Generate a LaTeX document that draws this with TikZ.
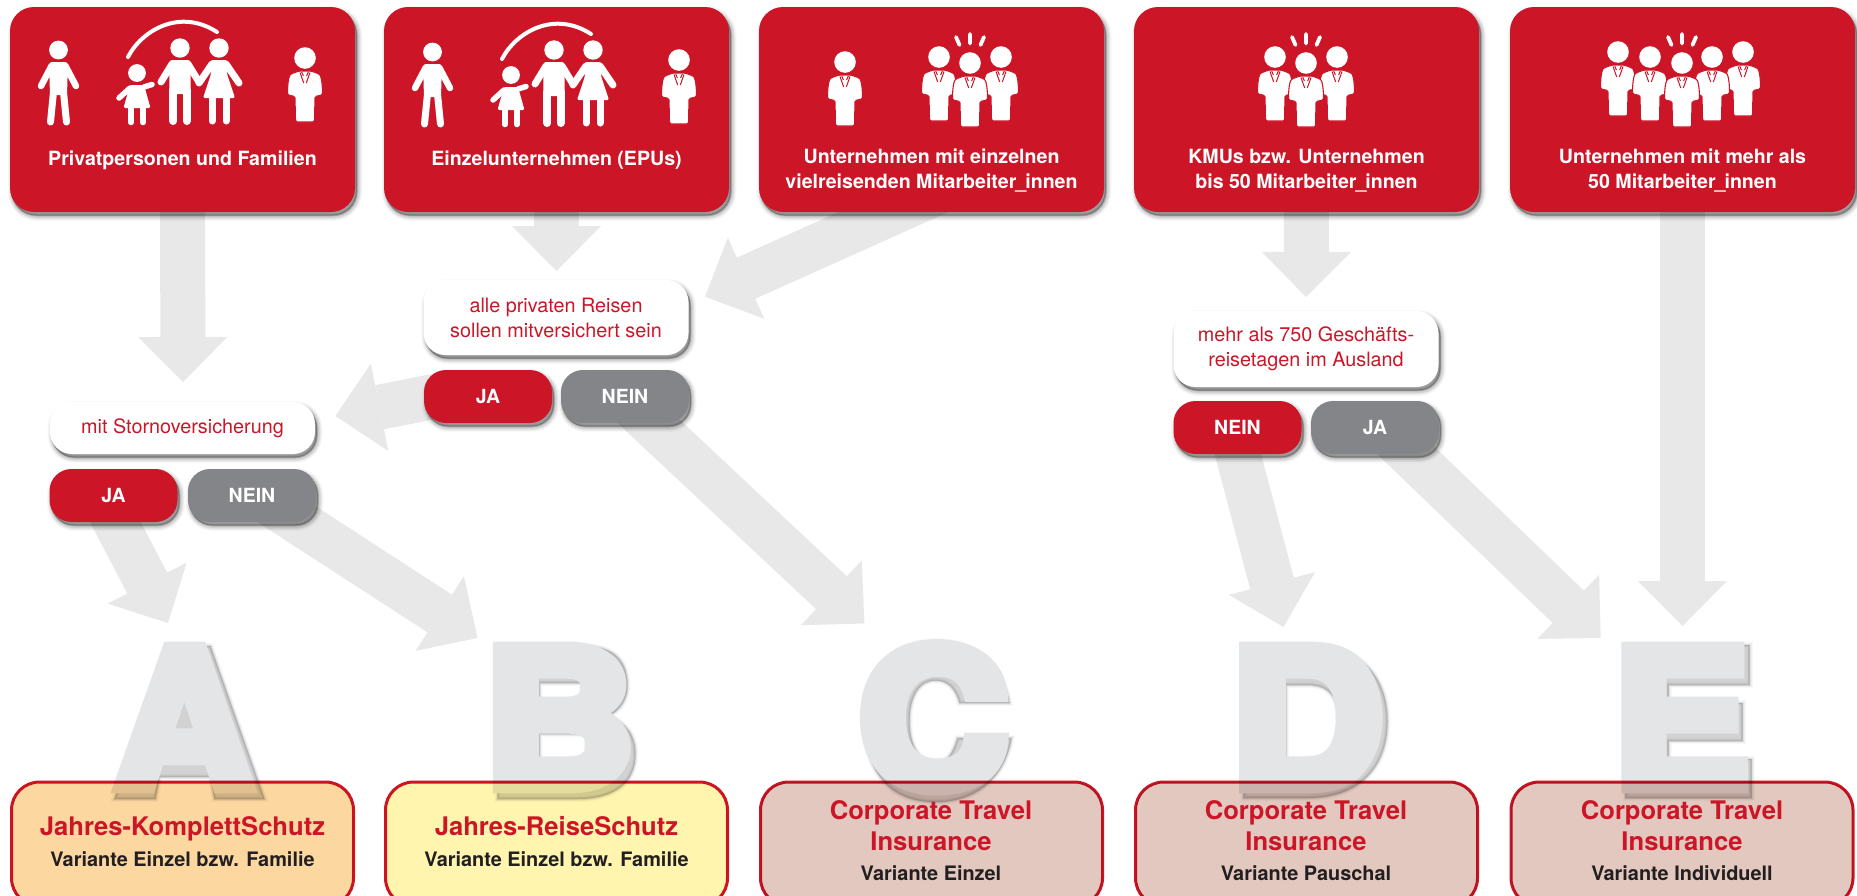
\documentclass[tikz,border=0pt]{standalone}
\usepackage{fontspec}
\setmainfont{TeX Gyre Heros}
\newfontfamily\heavyfont{TeX Gyre Heros}[BoldFeatures={FakeBold=7}]
\usetikzlibrary{arrows.meta,shadows,calc}
\definecolor{boxred}{HTML}{CC1628}
\definecolor{nogrey}{HTML}{848589}
\definecolor{arrowgrey}{HTML}{E8E8E8}
\definecolor{lettergrey}{HTML}{E4E5E7}
\definecolor{subtext}{HTML}{231F20}
\definecolor{fillA}{HTML}{FDD7A0}
\definecolor{fillB}{HTML}{FFF5AE}
\definecolor{fillC}{HTML}{E2C8BE}
\pgfdeclarelayer{bg}
\pgfsetlayers{bg,main}
\newcommand{\usc}{\kern-1pt\_\kern-1pt}
\tikzset{
  softshadow/.style={
    general shadow={fill=black,draw=black,opacity=.025,line width=10pt,shadow xshift=2.5pt,shadow yshift=-4pt},
    general shadow={fill=black,draw=black,opacity=.035,line width=8pt,shadow xshift=2.5pt,shadow yshift=-4pt},
    general shadow={fill=black,draw=black,opacity=.05,line width=6pt,shadow xshift=2.5pt,shadow yshift=-4pt},
    general shadow={fill=black,draw=black,opacity=.07,line width=4pt,shadow xshift=2.5pt,shadow yshift=-4pt},
    general shadow={fill=black,draw=black,opacity=.09,line width=2pt,shadow xshift=2pt,shadow yshift=-3.5pt},
    general shadow={fill=black,draw=black,opacity=.12,line width=.5pt,shadow xshift=1.5pt,shadow yshift=-3pt}},
  topbox/.style={softshadow,fill=boxred,rounded corners=24pt,minimum width=345pt,minimum height=205pt,inner sep=0pt},
  qbox/.style={softshadow,fill=white,rounded corners=22pt,minimum width=265pt,inner sep=0pt,align=center,text=boxred,font=\fontsize{19.8}{25}\selectfont},
  btn/.style={softshadow,rounded corners=22pt,minimum width=128pt,minimum height=53pt,inner sep=0pt,text=white,font=\bfseries\fontsize{19.5}{24}\selectfont},
  yes/.style={btn,fill=boxred},
  no/.style={btn,fill=nogrey},
  toplabel/.style={text=white,align=center,inner sep=0pt,font=\bfseries\fontsize{19.6}{25}\selectfont},
  resbox/.style={draw=boxred,line width=3pt,rounded corners=28pt,minimum width=342pt,minimum height=124pt,inner sep=0pt},
  reslabel/.style={align=center,inner sep=0pt,text=boxred,font=\bfseries\fontsize{25.6}{30.5}\selectfont},
  bigletter/.style={anchor=base,inner sep=0pt,text=lettergrey,transform shape,font=\heavyfont\bfseries\fontsize{190}{190}\selectfont},
  bigarrow/.style={draw=arrowgrey,line width=45pt,-{Triangle[width=89pt,length=45pt,line width=0pt,fill=arrowgrey]}},
  limb/.style={draw=white,line cap=round},
  adult/.pic={
    \fill[white] (0,0) circle (9.7);
    \fill[white,rounded corners=3pt] (-10.7,12) -- (10.7,12) -- (10.7,46) -- (-10.7,46) -- cycle;
    \draw[limb,line width=8pt] (-6.7,42) -- (-6.7,73) (6.7,42) -- (6.7,73);
    \draw[limb,line width=7pt] (-8,16) -- (-19,34) (8,16) -- (19,34);
  },
  walker/.pic={
    \fill[white] (0,0) circle (9.4);
    \fill[white,rounded corners=3pt] (-9.5,12) -- (9.5,12) -- (8.5,45) -- (-8.5,45) -- cycle;
    \draw[limb,line width=7pt] (-5,42) -- (-8,72) (5,42) -- (8,72);
    \draw[limb,line width=6.5pt] (-7,16) -- (-17.5,36) (7,16) -- (17.5,36);
  },
  woman/.pic={
    \fill[white] (0,0) circle (9.7);
    \fill[white,rounded corners=2pt] (-8,12) -- (8,12) -- (8,26) -- (16,50) -- (-16,50) -- (-8,26) -- cycle;
    \draw[limb,line width=7pt] (-7,48) -- (-7,73) (7,48) -- (7,73);
    \draw[limb,line width=7pt] (-7,16) -- (-20,35) (7,16) -- (20,35);
  },
  kid/.pic={
    \fill[white] (0,0) circle (8.9);
    \fill[white,rounded corners=1.5pt] (-7,12) -- (7,12) -- (13.5,35) -- (-13.5,35) -- cycle;
    \draw[limb,line width=5.5pt] (-6,33) -- (-6,49.5) (6,33) -- (6,49.5);
    \draw[limb,line width=5.5pt] (-7,15) -- (-18,25) (7,14) -- (15,11.5);
  },
  suit/.pic={
    \fill[white] (0,0) circle (10.8);
    \filldraw[fill=white,draw=boxred,line width=1.1pt,rounded corners=1.5pt] (-6,13) -- (-13,15.5) .. controls (-17,18) and (-17.5,30) .. (-17.5,37) -- (-10,38.5) -- (-9.5,64) -- (9.5,64) -- (10,38.5) -- (17.5,37) .. controls (17.5,30) and (17,18) .. (13,15.5) -- (6,13) -- cycle;
    \draw[boxred,line width=1pt] (-5,14.5) -- (-1.3,25) (5,14.5) -- (1.3,25) (-3.3,14) -- (-1.6,18) (3.3,14) -- (1.6,18);
  },
  rays/.pic={
    \draw[limb,line width=3.8pt] (-14,-26) -- (-10.5,-18) (0,-29) -- (0,-19.5) (14,-26) -- (10.5,-18);
  },
  trio/.pic={
    \pic at (-31,-6) {suit};
    \pic at (31,-6) {suit};
    \pic at (0,0) {suit};
    \pic at (0,0) {rays};
  },
  quint/.pic={
    \pic at (-64,-11) {suit};
    \pic at (61,-11) {suit};
    \pic at (-32,-6) {suit};
    \pic at (30,-6) {suit};
    \pic at (0,0) {suit};
    \pic at (0,0) {rays};
  },
  family/.pic={
    \pic at (58.5,50) {walker};
    \pic at (137,73) {kid};
    \pic at (180,48) {adult};
    \pic at (219,48) {woman};
    \draw[limb,line width=4pt] (128,57) .. controls (142,30) and (180,8) .. (217,32);
    \pic at (305,58) {suit};
  }
}
\newcommand{\lettershadow}[1]{%
  \foreach \w/\o in {6/.025,4/.04,2.5/.05,1/.07}{
    \path[shift={(2.5,4)},fill=black,draw=black,opacity=\o,line width=\w pt,even odd rule] #1;}}
\begin{document}
\begin{tikzpicture}[x=1pt,y=-1pt]
\path[use as bounding box,clip] (0,0) rectangle (1857,895);

% top boxes
\node[topbox] (t1) at (182.5,109.5) {};
\node[topbox] (t2) at (556.5,109.5) {};
\node[topbox] (t3) at (931.5,109.5) {};
\node[topbox] (t4) at (1306.5,109.5) {};
\node[topbox] (t5) at (1682.5,109.5) {};
\node[toplabel] (l1) at (182.5,160) {Privatpersonen und Familien};
\node[toplabel] (l2) at (556.5,160) {Einzelunternehmen (EPUs)};
\node[toplabel] (l3) at (931.5,171) {Unternehmen mit einzelnen\\vielreisenden Mitarbeiter\usc innen};
\node[toplabel] (l4) at (1306.5,171) {KMUs bzw. Unternehmen\\bis 50 Mitarbeiter\usc innen};
\node[toplabel] (l5) at (1682.5,171) {Unternehmen mit mehr als\\50 Mitarbeiter\usc innen};

% icons
\pic at (0,0) {family};
\pic at (374,2) {family};
\pic at (845,62) {suit};
\pic at (970,63) {trio};
\pic at (1306,63) {trio};
\pic at (1682,63) {quint};

% question boxes
\node[qbox,minimum height=52pt] (q1) at (182.5,428) {mit Stornoversicherung};
\node[qbox,minimum height=75pt] (q2) at (556,317.5) {alle privaten Reisen\\sollen mitversichert sein};
\node[qbox,minimum height=76pt] (q3) at (1306,349) {mehr als 750 Geschäfts-\\reisetagen im Ausland};
\node[yes] (y1) at (113.5,495.5) {JA};
\node[no]  (n1) at (252,495.5) {NEIN};
\node[yes] (y2) at (488,396.5) {JA};
\node[no]  (n2) at (625,396.5) {NEIN};
\node[yes] (n3) at (1237.5,427.5) {NEIN};
\node[no]  (y3) at (1375,427.5) {JA};

% arrow ends
\coordinate (tipq1) at (183,382);
\coordinate (tipq2) at (556.5,271);
\coordinate (tipq2b) at (705,296.6);
\coordinate (tipq1b) at (335.4,416);
\coordinate (tipA) at (168,623);
\coordinate (tipB) at (477.5,638);
\coordinate (tipC) at (864.3,623.5);
\coordinate (tipq3) at (1306,297);
\coordinate (tipD) at (1283.5,627);
\coordinate (tipE) at (1600.7,638);
\coordinate (tipE2) at (1682.5,626);

\begin{pgfonlayer}{bg}
\fill[white] (0,0) rectangle (1857,895);
\draw[bigarrow] (t1.south |- 0,205) -- (tipq1);
\draw[bigarrow] (t2.south |- 0,205) -- (tipq2);
\draw[bigarrow] ($(t3.south)+(28.5,-30)$) -- (tipq2b);
\draw[bigarrow] ($(y2.west)+(20,-2)$) -- (tipq1b);
\draw[bigarrow] ($(y1.south)+(-9.5,-22)$) -- (tipA);
\draw[bigarrow] ($(n1.south)+(10,-24)$) -- (tipB);
\draw[bigarrow] ($(n2.south)+(0,-24)$) -- (tipC);
\draw[bigarrow] (t4.south |- 0,205) -- (tipq3);
\draw[bigarrow] ($(n3.south)+(-6,-24)$) -- (tipD);
\draw[bigarrow] ($(y3.south)+(15,-19)$) -- (tipE);
\draw[bigarrow] (t5.south |- 0,205) -- (tipE2);
\end{pgfonlayer}

% big letter shadows
\lettershadow{(166,642) -- (208,642) -- (262,795) -- (212,795) -- (208,773) -- (157,773) -- (153,795) -- (112,795) -- cycle}
\lettershadow{(495,642) -- (580,642) .. controls (610,642) and (625,655) .. (625,682) .. controls (625,695) and (618,706) .. (606,712) .. controls (622,718) and (633,730) .. (633,750) .. controls (633,780) and (610,795) .. (575,795) -- (495,795) -- cycle (537,679) rectangle (579,702) (537,730) rectangle (584,758)}
\lettershadow{(1007,699) .. controls (1000,660) and (970,637) .. (935,637) .. controls (885,637) and (862,670) .. (862,717) .. controls (862,765) and (885,798) .. (933,798) .. controls (975,798) and (1003,772) .. (1009,734) -- (955,734) .. controls (950,750) and (945,758.5) .. (933,758.5) .. controls (917,758.5) and (907,742) .. (907,717) .. controls (907,692) and (917,676.5) .. (933,676.5) .. controls (945,676.5) and (953,684) .. (957,699) -- cycle}
\lettershadow{(1241,641) -- (1305,641) .. controls (1360,641) and (1385,675) .. (1385,717) .. controls (1385,765) and (1355,794) .. (1305,794) -- (1241,794) -- cycle (1283.5,681) -- (1305,681) .. controls (1328,681) and (1336,695) .. (1336,717) .. controls (1336,742) and (1325,755) .. (1305,755) -- (1283.5,755) -- cycle}
\lettershadow{(1623,641) -- (1747,641) -- (1747,681) -- (1666,681) -- (1666,699) -- (1740,699) -- (1740,737) -- (1666,737) -- (1666,755) -- (1749,755) -- (1749,794) -- (1623,794) -- cycle}

% big letters
\node[bigletter] (la) at (183.5,786.7) {A};
\node[bigletter,xscale=1.11] (lb) at (559,786.7) {B};
\node[bigletter,xscale=1.10] (lc) at (933.5,786.7) {C};
\node[bigletter,xscale=1.12] (ld) at (1307,786.7) {D};
\node[bigletter,xscale=1.085] (le) at (1681,786.7) {E};

% result boxes, multiplied over the letters
\begin{scope}[blend mode=multiply]
\node[resbox,fill=fillA] (ra) at (182.5,844) {};
\node[resbox,fill=fillB] (rb) at (556.5,844) {};
\node[resbox,fill=fillC] (rc) at (931.5,844) {};
\node[resbox,fill=fillC] (rd) at (1306.5,844) {};
\node[resbox,fill=fillC] (re) at (1682,844) {};
\end{scope}

\newcommand{\subline}[1]{{\color{subtext}\fontsize{19.9}{30.5}\selectfont #1}}
\node[reslabel] (ta) at (182.5,841.5) {Jahres-KomplettSchutz\\\subline{Variante Einzel bzw. Familie}};
\node[reslabel] (tb) at (556.5,841.5) {Jahres-ReiseSchutz\\\subline{Variante Einzel bzw. Familie}};
\node[reslabel] (tc) at (931,841) {Corporate Travel\\Insurance\\\subline{Variante Einzel}};
\node[reslabel] (td) at (1306,841) {Corporate Travel\\Insurance\\\subline{Variante Pauschal}};
\node[reslabel] (te) at (1682,841) {Corporate Travel\\Insurance\\\subline{Variante Individuell}};
\end{tikzpicture}
\end{document}
